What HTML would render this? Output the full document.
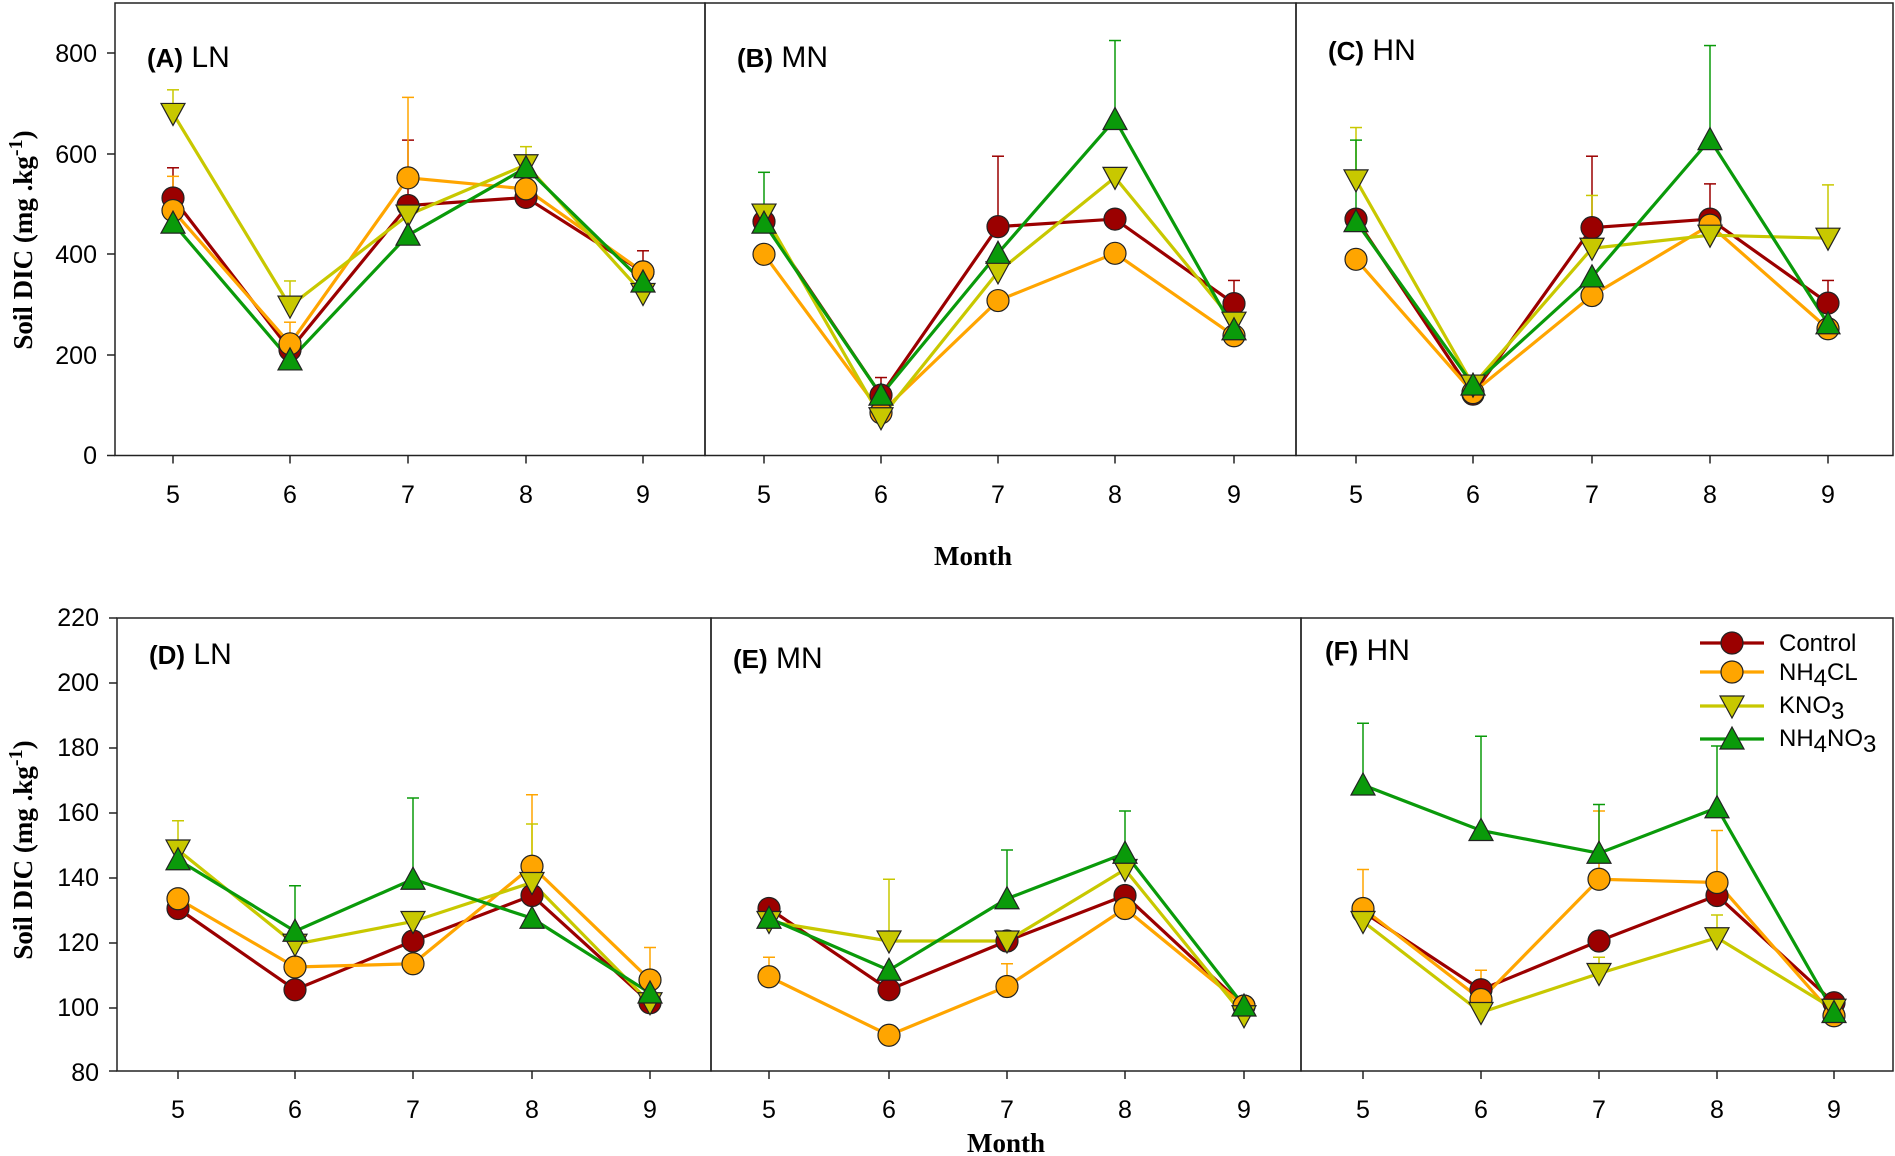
<!DOCTYPE html>
<html><head><meta charset="utf-8"><style>
body{margin:0;background:#fff}
svg{display:block}
text{font-family:"Liberation Sans",Arial,sans-serif;fill:#000}
.t{font-size:25px}
.s{font-family:"Liberation Serif",serif;font-weight:bold;font-size:27px}
.pb{font-weight:bold;font-size:26px}
.pn{font-size:30px}
.lg{font-size:24px}
</style></head><body>
<svg id="c" width="1895" height="1156" viewBox="0 0 1895 1156" xmlns="http://www.w3.org/2000/svg">
<g fill="none" stroke="#222" stroke-width="1.5">
<rect x="115" y="3" width="590" height="452.5"/>
<rect x="705" y="3" width="591" height="452.5"/>
<rect x="1296" y="3" width="597" height="452.5"/>
<rect x="117" y="618" width="594" height="453"/>
<rect x="711" y="618" width="590" height="453"/>
<rect x="1301" y="618" width="592" height="453"/>
</g>
<g id="ticks" stroke="#222" stroke-width="1.5"></g>
<g class="t" text-anchor="end">
<text x="97" y="62">800</text><text x="97" y="163">600</text><text x="97" y="263">400</text><text x="97" y="364">200</text><text x="97" y="464">0</text>
<text x="99" y="626">220</text><text x="99" y="691">200</text><text x="99" y="756">180</text><text x="99" y="821">160</text><text x="99" y="886">140</text><text x="99" y="951">120</text><text x="99" y="1016">100</text><text x="99" y="1081">80</text>
</g>
<g class="t" text-anchor="middle">
<text x="173" y="503">5</text><text x="290" y="503">6</text><text x="408" y="503">7</text><text x="526" y="503">8</text><text x="643" y="503">9</text>
<text x="764" y="503">5</text><text x="881" y="503">6</text><text x="998" y="503">7</text><text x="1115" y="503">8</text><text x="1234" y="503">9</text>
<text x="1356" y="503">5</text><text x="1473" y="503">6</text><text x="1592" y="503">7</text><text x="1710" y="503">8</text><text x="1828" y="503">9</text>
<text x="178" y="1118">5</text><text x="295" y="1118">6</text><text x="413" y="1118">7</text><text x="532" y="1118">8</text><text x="650" y="1118">9</text>
<text x="769" y="1118">5</text><text x="889" y="1118">6</text><text x="1007" y="1118">7</text><text x="1125" y="1118">8</text><text x="1244" y="1118">9</text>
<text x="1363" y="1118">5</text><text x="1481" y="1118">6</text><text x="1599" y="1118">7</text><text x="1717" y="1118">8</text><text x="1834" y="1118">9</text>
</g>
<text class="s" x="973" y="565" text-anchor="middle">Month</text>
<text class="s" x="1006" y="1152" text-anchor="middle">Month</text>
<text class="s" transform="translate(32,240) rotate(-90)" text-anchor="middle">Soil DIC (mg  .kg<tspan dy="-10" font-size="20">-1</tspan><tspan dy="10">)</tspan></text>
<text class="s" transform="translate(32,850) rotate(-90)" text-anchor="middle">Soil DIC (mg  .kg<tspan dy="-10" font-size="20">-1</tspan><tspan dy="10">)</tspan></text>
<text x="147" y="67"><tspan class="pb">(A)</tspan><tspan class="pn"> LN</tspan></text>
<text x="737" y="67"><tspan class="pb">(B)</tspan><tspan class="pn"> MN</tspan></text>
<text x="1328" y="60"><tspan class="pb">(C)</tspan><tspan class="pn"> HN</tspan></text>
<text x="149" y="664"><tspan class="pb">(D)</tspan><tspan class="pn"> LN</tspan></text>
<text x="733" y="668"><tspan class="pb">(E)</tspan><tspan class="pn"> MN</tspan></text>
<text x="1325" y="660"><tspan class="pb">(F)</tspan><tspan class="pn"> HN</tspan></text>
<g id="data"></g>
<g id="leg"></g>
<g class="lg">
<text x="1779" y="651">Control</text>
<text x="1779" y="680">NH<tspan dy="6">4</tspan><tspan dy="-6">CL</tspan></text>
<text x="1779" y="713">KNO<tspan dy="6">3</tspan></text>
<text x="1779" y="746">NH<tspan dy="6">4</tspan><tspan dy="-6">NO</tspan><tspan dy="6">3</tspan></text>
</g>
</svg>
<script>
var NS="http://www.w3.org/2000/svg";
function el(p,t,a){var e=document.createElementNS(NS,t);for(var k in a)e.setAttribute(k,a[k]);p.appendChild(e);return e;}
var cols=["#9b0000","#ffa500","#c8c800","#0a9a0a"];
var D=document.getElementById("data"),T=document.getElementById("ticks");
function marker(g,k,x,y){var a={fill:cols[k],stroke:"#222","stroke-width":1.2};
 if(k<2){a.cx=x;a.cy=y;a.r=11;el(g,"circle",a);}
 else if(k==2){a.points=(x-12)+","+(y-10)+" "+(x+12)+","+(y-10)+" "+x+","+(y+12);el(g,"polygon",a);}
 else {a.points=(x-12)+","+(y+10)+" "+(x+12)+","+(y+10)+" "+x+","+(y-12);el(g,"polygon",a);}}
var P=[
 {xs:[173,290,408,526,643],y0:455.5,sc:100.6/200,base:0,bot:455.5,
  d:[[512,210,497,513,365],[487,222,552,530,365],[680,297,478,578,322],[462,190,438,572,345]],
  e:[[572,0,627,0,407],[555,265,712,0,0],[727,347,0,614,0],[0,0,0,0,0]]},
 {xs:[764,881,998,1115,1234],y0:455.5,sc:100.6/200,base:0,bot:455.5,
  d:[[465,120,455,470,302],[400,85,308,402,238],[480,75,365,553,265],[462,120,402,668,250]],
  e:[[0,155,595,0,348],[0,0,0,0,0],[0,0,0,0,0],[563,0,0,825,0]]},
 {xs:[1356,1473,1592,1710,1828],y0:455.5,sc:100.6/200,base:0,bot:455.5,
  d:[[470,122,453,470,303],[390,125,318,458,252],[548,140,412,438,432],[465,140,355,628,262]],
  e:[[0,0,595,540,348],[0,0,0,0,0],[652,0,517,0,538],[627,0,0,815,0]]},
 {xs:[178,295,413,532,650],y0:1071,sc:65/20,base:80,bot:1071,
  d:[[130,105,120,134,101],[133,112,113,143,108],[148,119,126,138,101],[145,123,139,127,104]],
  e:[[0,0,0,0,0],[0,0,0,165,118],[157,0,0,156,0],[0,137,164,0,0]]},
 {xs:[769,889,1007,1125,1244],y0:1071,sc:65/20,base:80,bot:1071,
  d:[[130,105,120,134,100],[109,91,106,130,100],[126,120,120,142,97],[127,111,133,147,100]],
  e:[[0,0,0,0,0],[115,0,113,0,0],[0,139,0,0,0],[0,0,148,160,0]]},
 {xs:[1363,1481,1599,1717,1834],y0:1071,sc:65/20,base:80,bot:1071,
  d:[[129,105,120,134,101],[130,102,139,138,97],[126,98,110,121,99],[168,154,147,161,98]],
  e:[[130,0,122,0,0],[142,111,160,154,0],[0,0,115,128,0],[187,183,162,180,0]]}
];
P.forEach(function(p){
 function Y(v){return p.y0-(v-p.base)*p.sc;}
 p.xs.forEach(function(x){el(T,"line",{x1:x,x2:x,y1:p.bot,y2:p.bot+8});});
 for(var k=0;k<4;k++){var pts=[];
  for(var i=0;i<5;i++){pts.push(p.xs[i]+","+Y(p.d[k][i]));
   if(p.e[k][i]){var ey=Y(p.e[k][i]);el(D,"line",{x1:p.xs[i],x2:p.xs[i],y1:Y(p.d[k][i]),y2:ey,stroke:cols[k],"stroke-width":1.5});
    el(D,"line",{x1:p.xs[i]-6,x2:p.xs[i]+6,y1:ey,y2:ey,stroke:cols[k],"stroke-width":1.5});}}
  el(D,"polyline",{points:pts.join(" "),fill:"none",stroke:cols[k],"stroke-width":3.2});}
 for(var k=0;k<4;k++)for(var i=0;i<5;i++)marker(D,k,p.xs[i],Y(p.d[k][i]));
});
[[115,[53,154,254,355,455.5]],[117,[618,683,748,813,878,943,1008,1071]]].forEach(function(a){
 a[1].forEach(function(y){el(T,"line",{x1:a[0]-8,x2:a[0],y1:y,y2:y});});});
var L=document.getElementById("leg");
[643,672,706,739].forEach(function(y,k){el(L,"line",{x1:1700,x2:1764,y1:y,y2:y,stroke:cols[k],"stroke-width":3.2});marker(L,k,1732,y);});
</script>
</body></html>
